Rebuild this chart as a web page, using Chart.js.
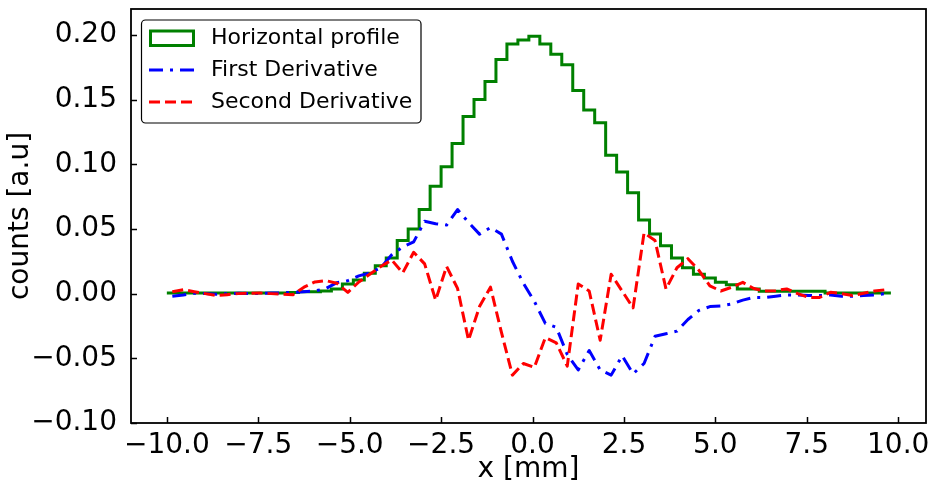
<!DOCTYPE html>
<html>
<head>
<meta charset="utf-8">
<script src="https://cdn.jsdelivr.net/npm/chart.js@4.4.1/dist/chart.umd.min.js"></script>
<style>
    html, body { margin: 0; padding: 0; background: #fff; }
    canvas { display: block; }
</style>
</head>
<body>
<canvas id="profileChart" width="930" height="485"></canvas>
<script>
// Histogram bin edges of the horizontal profile [mm]
const binEdges = [-10.0, -9.7, -9.4, -9.1, -8.8, -8.5, -8.2, -7.9, -7.6, -7.3, -7.0, -6.7, -6.4, -6.1, -5.8, -5.5,
    -5.2, -4.9, -4.6, -4.3, -4.0, -3.7, -3.4, -3.1, -2.8, -2.5, -2.2, -1.9, -1.6, -1.3, -1.0, -0.7, -0.4, -0.1,
    0.2, 0.5, 0.8, 1.1, 1.4, 1.7, 2.0, 2.3, 2.6, 2.9, 3.2, 3.5, 3.8, 4.1, 4.4, 4.7, 5.0, 5.3, 5.6, 5.9, 6.2,
    6.5, 6.8, 7.1, 7.4, 7.7, 8.0, 8.3, 8.6, 8.9, 9.2, 9.5, 9.8];

// Bin centres, where the derivatives are plotted [mm]
const binCenters = [-9.85, -9.55, -9.25, -8.95, -8.65, -8.35, -8.05, -7.75, -7.45, -7.15, -6.85, -6.55, -6.25,
    -5.95, -5.65, -5.35, -5.05, -4.75, -4.45, -4.15, -3.85, -3.55, -3.25, -2.95, -2.65, -2.35, -2.05, -1.75,
    -1.45, -1.15, -0.85, -0.55, -0.25, 0.05, 0.35, 0.65, 0.95, 1.25, 1.55, 1.85, 2.15, 2.45, 2.75, 3.05, 3.35,
    3.65, 3.95, 4.25, 4.55, 4.85, 5.15, 5.45, 5.75, 6.05, 6.35, 6.65, 6.95, 7.25, 7.55, 7.85, 8.15, 8.45, 8.75,
    9.05, 9.35, 9.65];

// Horizontal profile (counts per bin)
const profile = [0.0005, 0.0005, 0.0005, 0.0005, 0.0005, 0.0005, 0.0005, 0.0005, 0.0005, 0.0005, 0.0005,
    0.0008, 0.0015, 0.0015, 0.002, 0.0035, 0.0075, 0.0106, 0.0157, 0.0216, 0.0275, 0.041, 0.050, 0.065, 0.083,
    0.098, 0.116, 0.137, 0.150, 0.164, 0.181, 0.193, 0.196, 0.199, 0.193, 0.185, 0.177, 0.157, 0.142, 0.132,
    0.107, 0.094, 0.078, 0.057, 0.046, 0.037, 0.0275, 0.020, 0.015, 0.012, 0.0087, 0.0068, 0.0036, 0.0036,
    0.0018, 0.0018, 0.0018, 0.0018, 0.0018, 0.0018, 0.0005, 0.0005, 0.0005, 0.0005, 0.0005, 0.0005];

// First derivative
const firstDerivative = [-0.002, -0.001, 0.0003, 0.0, -0.0005, 0.0, 0.0003, 0.0, 0.0002, 0.0005,
    0.0005, 0.001, 0.0015, 0.002, 0.004, 0.0085, 0.010, 0.0137, 0.016, 0.020,
    0.030, 0.036, 0.040, 0.056, 0.054, 0.053, 0.065, 0.055, 0.046, 0.051,
    0.046, 0.025, 0.008, -0.006, -0.023, -0.026, -0.047, -0.059, -0.044, -0.059,
    -0.063, -0.048, -0.062, -0.054, -0.033, -0.031, -0.029, -0.020, -0.013, -0.010,
    -0.0095, -0.008, -0.005, -0.003, -0.003, -0.002, -0.001, -0.001, -0.0015, -0.0015,
    -0.001, -0.002, -0.002, -0.0015, -0.001, 0.0];

// Second derivative
const secondDerivative = [0.0015, 0.003, 0.0015, 0.0, -0.0015, -0.0008, 0.0, 0.0003, 0.0005, 0.0,
    -0.0005, -0.0008, 0.005, 0.009, 0.010, 0.008, 0.001, 0.009, 0.015, 0.021,
    0.026, 0.016, 0.032, 0.023, -0.005, 0.021, 0.004, -0.036, -0.010, 0.005,
    -0.030, -0.063, -0.054, -0.057, -0.034, -0.038, -0.056, 0.0075, 0.002, -0.036,
    0.015, 0.002, -0.011, 0.047, 0.041, 0.0036, 0.020, 0.027, 0.018, 0.006,
    0.002, 0.005, 0.0087, 0.004, 0.002, 0.0023, 0.0036, 0.0, -0.003, -0.003,
    0.001, 0.0, -0.0015, 0.0003, 0.002, 0.003];

const xTicks = [-10.0, -7.5, -5.0, -2.5, 0.0, 2.5, 5.0, 7.5, 10.0];
const yTicks = [-0.10, -0.05, 0.00, 0.05, 0.10, 0.15, 0.20];

const FONT = '"DejaVu Sans", sans-serif';
const GREEN = '#008000';
const BLUE = '#0000ff';
const RED = '#ff0000';

// matplotlib style minus sign
const fmt = (v, d) => (v < 0 ? '\u2212' : '') + Math.abs(v).toFixed(d);

// Frame around the plot area plus inward tick marks
const frameAndTicks = {
    id: 'frameAndTicks',
    afterDatasetsDraw(chart) {
        const { ctx, chartArea: a, scales: { x, y } } = chart;
        ctx.save();
        ctx.strokeStyle = '#000';
        ctx.lineWidth = 1.8;
        ctx.strokeRect(a.left, a.top, a.right - a.left, a.bottom - a.top);
        ctx.lineWidth = 1.5;
        ctx.beginPath();
        x.ticks.forEach(t => {
            const px = Math.round(x.getPixelForValue(t.value)) + 0.5;
            ctx.moveTo(px, a.bottom);
            ctx.lineTo(px, a.bottom - 6);
        });
        y.ticks.forEach(t => {
            const py = Math.round(y.getPixelForValue(t.value)) + 0.5;
            ctx.moveTo(a.left, py);
            ctx.lineTo(a.left + 6, py);
        });
        ctx.stroke();
        ctx.restore();
    }
};

// Legend box in the upper left corner, like matplotlib's
const insetLegend = {
    id: 'insetLegend',
    afterDraw(chart) {
        const ctx = chart.ctx;
        const bx = 141.5, by = 20, bw = 279.5, bh = 103, r = 4;
        ctx.save();
        ctx.beginPath();
        ctx.roundRect(bx, by, bw, bh, r);
        ctx.fillStyle = 'rgba(255,255,255,0.9)';
        ctx.fill();
        ctx.strokeStyle = '#000';
        ctx.lineWidth = 1.2;
        ctx.stroke();

        const rows = [38, 70, 102];
        const hx0 = 149, hx1 = 195;

        // profile handle: outlined rectangle
        ctx.strokeStyle = GREEN;
        ctx.lineWidth = 3;
        ctx.lineJoin = 'miter';
        ctx.strokeRect(hx0 + 1.5, rows[0] - 7, hx1 - hx0 - 3, 14.5);

        chart.data.datasets.forEach(ds => {
            if (ds.legendRow === 0) return;
            ctx.beginPath();
            ctx.setLineDash(ds.borderDash);
            ctx.strokeStyle = ds.borderColor;
            ctx.lineWidth = ds.borderWidth;
            ctx.lineCap = 'butt';
            ctx.moveTo(hx0, rows[ds.legendRow]);
            ctx.lineTo(hx1, rows[ds.legendRow]);
            ctx.stroke();
        });
        ctx.setLineDash([]);

        ctx.fillStyle = '#000';
        ctx.font = '22px ' + FONT;
        ctx.textBaseline = 'middle';
        chart.data.datasets.forEach(ds => {
            ctx.fillText(ds.label, 211, rows[ds.legendRow]);
        });
        ctx.restore();
    }
};

const profilePoints = binEdges.map((e, i) => ({ x: e, y: profile[Math.min(i, profile.length - 1)] }));
const firstPoints = binCenters.map((c, i) => ({ x: c, y: firstDerivative[i] }));
const secondPoints = binCenters.map((c, i) => ({ x: c, y: secondDerivative[i] }));

new Chart(document.getElementById('profileChart'), {
    type: 'line',
    data: {
        datasets: [
            {
                label: 'Horizontal profile',
                legendRow: 0,
                data: profilePoints,
                stepped: 'before',
                borderColor: GREEN,
                borderWidth: 3,
                borderJoinStyle: 'miter',
                borderDash: [],
                pointRadius: 0,
                fill: false,
                order: 3
            },
            {
                label: 'First Derivative',
                legendRow: 1,
                data: firstPoints,
                borderColor: BLUE,
                borderWidth: 3,
                borderDash: [14, 7, 3, 7],
                borderCapStyle: 'butt',
                borderJoinStyle: 'round',
                tension: 0,
                pointRadius: 0,
                fill: false,
                order: 2
            },
            {
                label: 'Second Derivative',
                legendRow: 2,
                data: secondPoints,
                borderColor: RED,
                borderWidth: 3,
                borderDash: [11, 5],
                borderCapStyle: 'butt',
                borderJoinStyle: 'round',
                tension: 0,
                pointRadius: 0,
                fill: false,
                order: 1
            }
        ]
    },
    options: {
        responsive: false,
        devicePixelRatio: 1,
        animation: false,
        layout: { padding: { left: 0, right: 4, top: 9, bottom: 0 } },
        plugins: {
            legend: { display: false },
            tooltip: { enabled: false }
        },
        scales: {
            x: {
                type: 'linear',
                min: -10.98,
                max: 10.76,
                grid: { display: false },
                border: { display: false },
                afterBuildTicks: s => { s.ticks = xTicks.map(v => ({ value: v })); },
                afterFit: s => { s.height = 62; s.paddingLeft = 0; s.paddingRight = 0; },
                ticks: {
                    autoSkip: false,
                    maxRotation: 0,
                    padding: 1,
                    color: '#000',
                    font: { family: FONT, size: 28, lineHeight: 1 },
                    callback: v => fmt(v, 1)
                },
                title: {
                    display: true,
                    text: 'x [mm]',
                    color: '#000',
                    font: { family: FONT, size: 28, lineHeight: 1 },
                    padding: { top: 0, bottom: 1 }
                }
            },
            y: {
                type: 'linear',
                min: -0.10,
                max: 0.22,
                grid: { display: false },
                border: { display: false },
                afterBuildTicks: s => { s.ticks = yTicks.map(v => ({ value: v })); },
                afterFit: s => { s.width = 131; s.paddingTop = 0; s.paddingBottom = 0; },
                ticks: {
                    autoSkip: false,
                    padding: 6,
                    color: '#000',
                    font: { family: FONT, size: 28, lineHeight: 1 },
                    callback: v => fmt(v, 2)
                },
                title: {
                    display: true,
                    text: 'counts [a.u]',
                    color: '#000',
                    font: { family: FONT, size: 28, lineHeight: 1.2 },
                    padding: { top: 4, bottom: 0 }
                }
            }
        }
    },
    plugins: [frameAndTicks, insetLegend]
});
</script>
</body>
</html>
